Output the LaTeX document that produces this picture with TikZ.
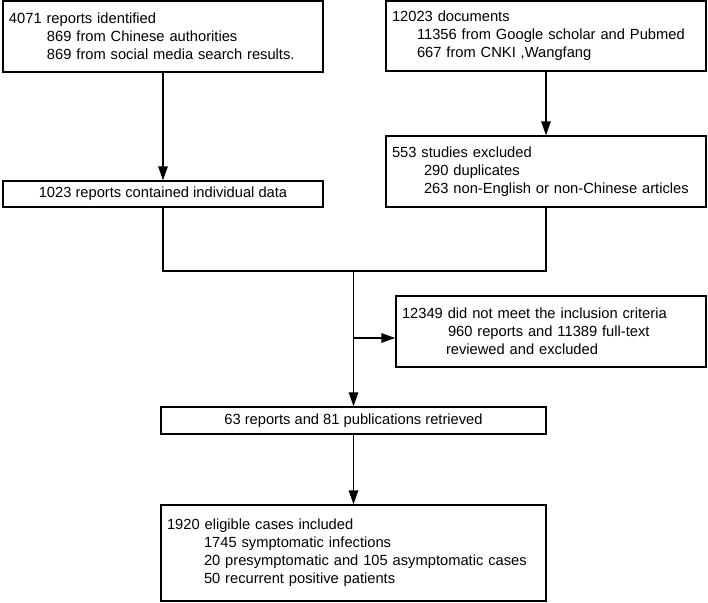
\documentclass[tikz,border=0pt]{standalone}
\usepackage{fontspec}
\setmainfont{Liberation Sans}
\usetikzlibrary{arrows.meta}

\tikzset{
  flowbox/.style={draw, line width=1.4pt, inner xsep=6pt, inner ysep=2pt,
    font=\fontsize{14.7}{18}\selectfont},
  leftbox/.style={flowbox, align=left, text width=#1},
  midbox/.style={flowbox, align=center, minimum width=#1},
}

\begin{document}
\begin{tikzpicture}[x=1pt, y=-1pt, line width=1.4pt, >={Triangle[length=14pt,width=9.5pt]}]
    \useasboundingbox (0,0) rectangle (708,602);

    % sources
    \node[leftbox=308pt, minimum height=71pt] (rep) at (163,36.5)
      {4071 reports identified\\
       \hspace*{38pt}869 from Chinese authorities\\
       \hspace*{38pt}869 from social media search results.};
    \node[leftbox=308pt, minimum height=70pt] (doc) at (546,36)
      {12023 documents\\
       \hspace*{25pt}11356 from Google scholar and Pubmed\\
       \hspace*{25pt}667 from CNKI ,Wangfang};

    % screening
    \node[midbox=320pt, minimum height=26pt] (ind) at (163,194)
      {1023 reports contained individual data};
    \node[leftbox=308pt, minimum height=71pt] (stu) at (546,171.5)
      {553 studies excluded\\
       \hspace*{32pt}290 duplicates\\
       \hspace*{32pt}263 non-English or non-Chinese articles};

    \coordinate (join) at (353.5,271);
    \coordinate (split) at (353.5,338);

    \node[leftbox=298pt, minimum height=71pt] (nmet) at (551,331.5)
      {12349 did not meet the inclusion criteria\\
       \hspace*{46pt}960 reports and 11389 full-text\\
       \hspace*{44pt}reviewed and excluded};

    % included
    \node[midbox=385pt, minimum height=27pt] (ret) at (353.5,420.5)
      {63 reports and 81 publications retrieved};
    \node[leftbox=373pt, minimum height=96pt] (elig) at (353.5,553)
      {1920 eligible cases included\\
       \hspace*{37pt}1745 symptomatic infections\\
       \hspace*{37pt}20 presymptomatic and 105 asymptomatic cases\\
       \hspace*{37pt}50 recurrent positive patients};

    \draw[->] (rep.south) -- (ind.north);
    \draw[->] (doc.south) -- (stu.north);
    \draw (ind.south) |- (join) -| (stu.south);
    \draw[->] (join) -- (ret.north);
    \draw[->] (split) -- (split -| nmet.west);
    \draw[->] (ret.south) -- (elig.north);
\end{tikzpicture}
\end{document}
